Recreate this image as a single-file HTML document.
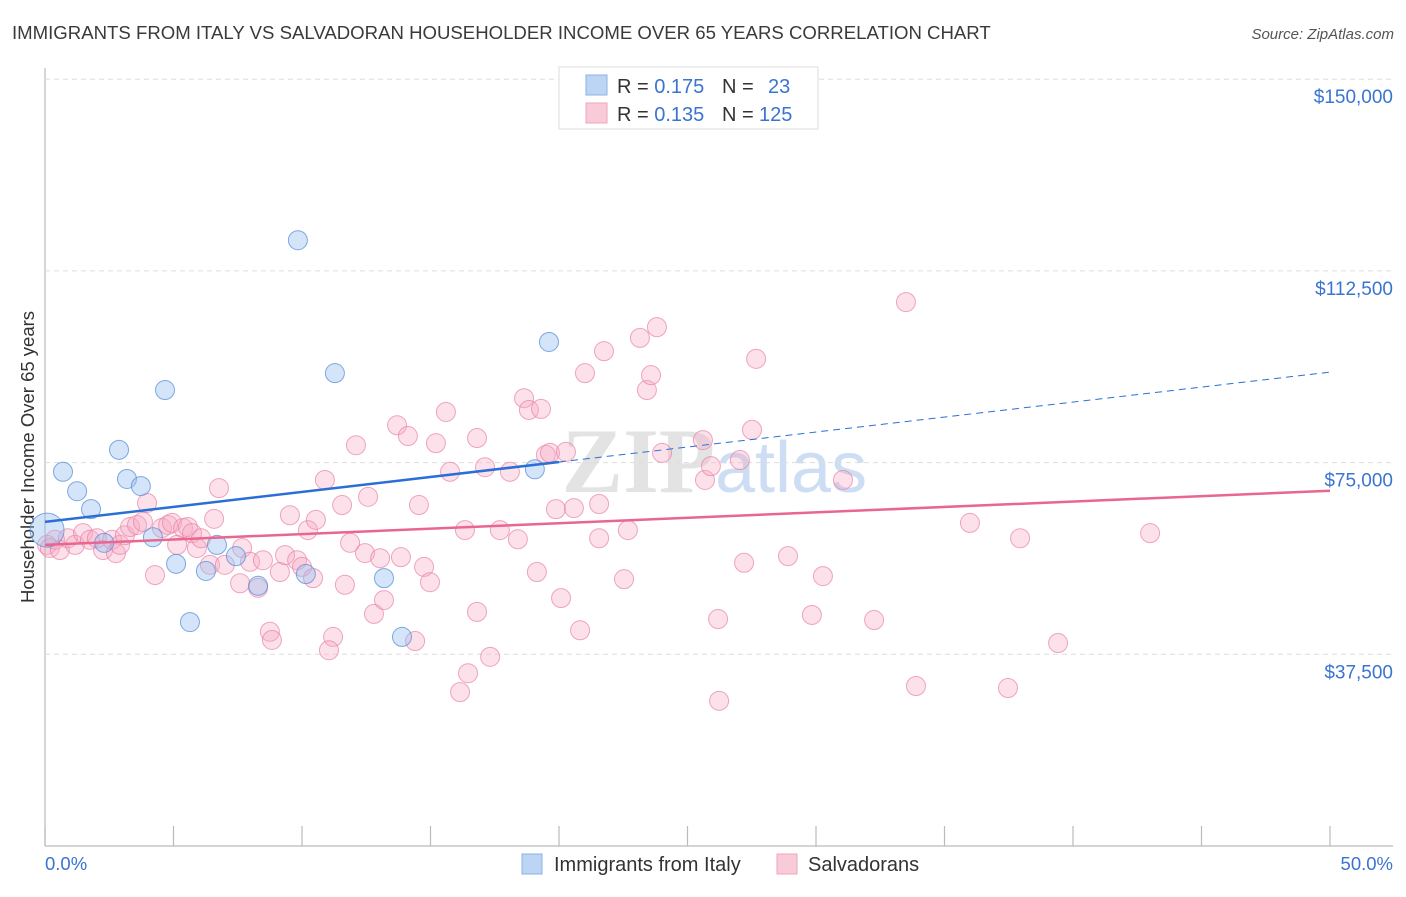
<!DOCTYPE html>
<html><head><meta charset="utf-8"><style>
body{margin:0;background:#fff;font-family:"Liberation Sans",sans-serif}
</style></head><body>
<svg id="c" width="1406" height="892" xmlns="http://www.w3.org/2000/svg" font-family="Liberation Sans, sans-serif">
<text x="12" y="39" font-size="18.6" fill="#3a3a3a">IMMIGRANTS FROM ITALY VS SALVADORAN HOUSEHOLDER INCOME OVER 65 YEARS CORRELATION CHART</text>
<text x="1394" y="39" font-size="15" fill="#555" font-style="italic" text-anchor="end">Source: ZipAtlas.com</text>
<text x="715" y="492" font-size="92" fill="#d8d8d8" text-anchor="end" font-family="Liberation Serif, serif" font-weight="bold" opacity="0.7">ZIP</text>
<text x="715" y="492" font-size="72" fill="#b8d0ee" opacity="0.7">atlas</text>
<text transform="translate(34,457) rotate(-90)" font-size="18.5" fill="#333" text-anchor="middle">Householder Income Over 65 years</text>
<g id="grid"></g><g id="pts"></g><g id="trend"></g>
<g>
<rect x="559" y="67" width="259" height="62" fill="#fff" stroke="#ddd"/>
<rect x="586" y="75" width="21" height="20" fill="#bcd5f5" stroke="#8bb2e6"/>
<rect x="586" y="103" width="21" height="20" fill="#f9cad8" stroke="#eea5bc"/>
<text x="617" y="93" font-size="20" fill="#333">R = <tspan fill="#3a74d0">0.175</tspan><tspan x="722">N = </tspan><tspan x="768" fill="#3a74d0">23</tspan></text>
<text x="617" y="121" font-size="20" fill="#333">R = <tspan fill="#3a74d0">0.135</tspan><tspan x="722">N = </tspan><tspan x="759" fill="#3a74d0">125</tspan></text>
</g>
<g>
<rect x="522" y="854" width="20" height="20" fill="#bcd5f5" stroke="#8bb2e6"/>
<text x="554" y="871" font-size="20" fill="#333">Immigrants from Italy</text>
<rect x="777" y="854" width="20" height="20" fill="#f9cad8" stroke="#eea5bc"/>
<text x="808" y="871" font-size="20" fill="#333">Salvadorans</text>
</g>
<text x="45" y="870" font-size="18.5" fill="#3a74d0">0.0%</text>
<text x="1393" y="870" font-size="18.5" fill="#3a74d0" text-anchor="end">50.0%</text>
</svg>
<script>
const yTicks=[37500,75000,112500,150000];
const yTickLabels=["$37,500","$75,000","$112,500","$150,000"];
const italyX=[0.08,0.70,1.25,1.79,2.88,3.19,3.73,4.20,4.67,5.10,5.64,6.26,6.69,7.43,8.29,9.84,10.15,11.28,13.19,13.89,19.61,19.06,2.30];
const italyY=[61.8,73.2,69.4,65.9,77.5,71.8,70.4,60.4,89.2,55.2,43.8,53.8,58.9,56.7,50.9,118.5,53.2,92.5,52.4,40.9,98.6,73.7,59.3];
const salvX=[0.08,0.19,0.39,0.58,0.89,1.17,1.48,1.75,2.02,2.26,2.61,2.76,2.92,3.11,3.31,3.58,3.81,3.97,4.28,4.55,4.79,4.94,5.14,5.37,5.56,5.72,5.91,6.07,6.42,6.58,6.77,7.00,7.59,7.67,7.98,8.29,8.48,8.75,8.83,9.14,9.34,9.53,9.81,10.00,10.23,10.43,10.54,10.89,11.21,11.05,11.56,11.67,11.87,12.10,12.45,12.57,12.80,13.04,13.19,13.70,13.85,14.12,14.40,14.55,14.75,14.98,15.21,15.60,15.76,16.15,16.34,16.46,16.81,16.81,17.12,17.32,17.70,18.09,18.40,18.64,18.83,19.14,19.30,19.49,19.65,19.88,20.08,20.27,20.58,20.82,21.01,21.56,21.56,21.75,22.53,22.68,23.15,23.42,23.58,23.81,24.01,25.60,25.68,25.91,26.19,26.23,27.04,27.20,27.51,27.67,28.91,29.84,30.27,31.05,32.26,33.50,33.89,35.99,37.47,37.94,39.42,43.00];
const salvY=[58.9,58.3,59.9,57.9,60.2,58.9,61.2,59.9,60.2,57.9,59.9,57.3,58.9,60.8,62.4,62.8,63.4,67.1,53.0,62.2,62.8,63.2,58.9,62.2,62.4,61.2,58.3,60.2,55.0,64.0,70.0,55.0,51.4,58.3,55.6,50.5,55.9,41.9,40.3,53.6,56.9,64.7,55.9,54.6,61.8,52.4,63.8,71.6,40.9,38.3,66.7,51.1,59.3,78.4,57.3,68.3,45.4,56.3,48.1,82.3,56.5,80.2,40.1,66.7,54.6,51.6,78.8,84.9,73.2,30.1,61.8,33.8,79.8,45.8,74.1,37.0,61.8,73.2,60.0,87.6,85.3,53.6,85.5,76.5,76.9,65.9,48.5,77.1,66.1,42.2,92.5,60.2,66.9,96.8,52.2,61.8,99.4,89.2,92.1,101.5,76.9,79.4,71.6,74.3,44.4,28.4,75.5,55.4,81.4,95.3,56.7,45.2,52.8,71.6,44.2,106.4,31.3,63.2,30.9,60.2,39.7,61.2];
const italyTrend=[63.4,92.7];
const salvTrend=[58.9,69.5];
const NS='http://www.w3.org/2000/svg';
const X=p=>45+p/50*1285;
const Y=k=>846-k*1000/37500*191.7;
function mk(tag,attrs,parent){const e=document.createElementNS(NS,tag);for(const k in attrs)e.setAttribute(k,attrs[k]);parent.appendChild(e);return e;}
const grid=document.getElementById('grid');
mk('line',{x1:45,y1:68,x2:45,y2:846,stroke:'#bbb','stroke-width':1.2},grid);
mk('line',{x1:45,y1:846,x2:1393,y2:846,stroke:'#bbb','stroke-width':1.2},grid);
for(let i=0;i<=10;i++){const l=mk('line',{x1:X(i*5),y1:826,x2:X(i*5),y2:846,stroke:'#bbb','stroke-width':1.2},grid);

}
yTicks.forEach((v,i)=>{const y=Y(v/1000);
const l=mk('line',{x1:45,y1:y,x2:1393,y2:y,stroke:'#ddd','stroke-dasharray':'5,4'},grid);


const t=mk('text',{x:1393,y:y+24,'font-size':19,fill:'#3a74d0','text-anchor':'end'},grid);
t.textContent=yTickLabels[i];

});
const pts=document.getElementById('pts');
salvX.forEach((x,i)=>{const c=mk('circle',{cx:X(x),cy:Y(salvY[i]),r:9.5,fill:'rgba(246,170,195,0.35)',stroke:'rgba(232,130,165,0.7)','stroke-width':1},pts);

});
italyX.forEach((x,i)=>{const c=mk('circle',{cx:X(x),cy:Y(italyY[i]),r:i==0?17:9.5,fill:'rgba(150,190,240,0.4)',stroke:'rgba(90,140,215,0.75)','stroke-width':1},pts);

});
const tr=document.getElementById('trend');
const bMid=italyTrend[0]+(italyTrend[1]-italyTrend[0])*20/50;
const t1=mk('line',{x1:X(0),y1:Y(italyTrend[0]),x2:X(20),y2:Y(bMid),stroke:'#2a6fd6','stroke-width':2.5},tr);


const t2=mk('line',{x1:X(20),y1:Y(bMid),x2:X(50),y2:Y(italyTrend[1]),stroke:'#2a6fd6','stroke-width':1,'stroke-dasharray':'7,5'},tr);


const t3=mk('line',{x1:X(0),y1:Y(salvTrend[0]),x2:X(50),y2:Y(salvTrend[1]),stroke:'#e8668f','stroke-width':2.5},tr);


</script>
</body></html>
